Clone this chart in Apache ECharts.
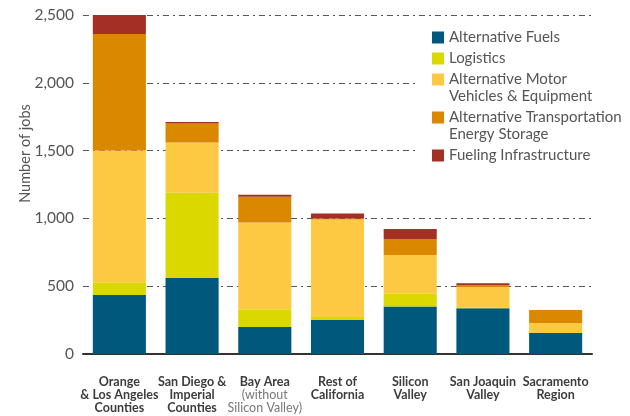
<!DOCTYPE html>
<html>
<head>
<meta charset="utf-8">
<script src="https://cdn.jsdelivr.net/npm/echarts@6/dist/echarts.min.js"></script>
<style>
html,body{margin:0;padding:0;background:#fff;}
#chart{width:630px;height:416px;}
</style>
</head>
<body>
<div id="chart"></div>
<script>
var categories = ['Orange\n& Los Angeles\nCounties', 'San Diego &\nImperial\nCounties', 'Bay Area\n(without\nSilicon Valley)', 'Rest of\nCalifornia', 'Silicon\nValley', 'San Joaquin\nValley', 'Sacramento\nRegion'];
var seriesNames = ['Alternative Fuels', 'Logistics', 'Alternative Motor\nVehicles & Equipment', 'Alternative Transportation\nEnergy Storage', 'Fueling Infrastructure'];
var altFuels = [435, 560, 200, 250, 350, 338, 154];
var logistics = [95, 630, 130, 22, 95, 7, 0];
var altMotor = [970, 370, 640, 720, 285, 150, 74];
var energyStorage = [860, 140, 190, 8, 118, 12, 96];
var fueling = [140, 10, 15, 37, 73, 15, 0];
var yTicks = [0, 500, 1000, 1500, 2000, 2500];
var axisTitle = 'Number of jobs';

var colors = ['#00587c', '#dbd800', '#fdc942', '#d98800', '#a32f25'];
var values = [altFuels, logistics, altMotor, energyStorage, fueling];
var FONT = 'Lato';

var chart = echarts.init(document.getElementById('chart'), null, {renderer: 'canvas'});
var series = seriesNames.map(function (n, i) {
  return {
    name: n, type: 'bar', stack: 'jobs', data: values[i],
    barCategoryGap: '27%',
    itemStyle: {color: colors[i]},
    emphasis: {disabled: true}
  };
});

// legend: one component per entry so that two-line entries keep the swatch on their first line
var topSquare = 'path://M0,0L12,0L12,12L0,12Z M0,29L12,29';
var legendTops = [29, 50, 71, 109, 147];
var legends = seriesNames.map(function (n, i) {
  var twoLine = n.indexOf('\n') >= 0;
  return {
    orient: 'vertical', left: 418, top: legendTops[i], padding: [0, 14, 0, 14],
    backgroundColor: '#fff',
    itemWidth: 12, itemHeight: twoLine ? 29 : 12,
    selectedMode: false,
    textStyle: {fontFamily: FONT, fontSize: 15, color: '#555', lineHeight: 17},
    data: [{name: n, icon: twoLine ? topSquare : 'rect'}]
  };
});

chart.setOption({
  animation: false,
  color: colors,
  grid: {left: 83, right: 38, top: 15, bottom: 62},
  legend: legends,
  xAxis: {
    type: 'category', data: categories,
    axisLine: {lineStyle: {color: '#333', width: 2}},
    axisTick: {show: false},
    axisLabel: {
      interval: 0, margin: 21,
      formatter: function (v) {
        var lines = v.split('\n');
        var light = false;
        return lines.map(function (l) {
          if (l.charAt(0) === '(') light = true;
          return (light ? '{l|' : '{b|') + l + '}';
        }).join('\n');
      },
      rich: {
        b: {fontFamily: FONT, fontSize: 12.5, fontWeight: 'bold', color: '#3c3c3c', lineHeight: 13},
        l: {fontFamily: FONT, fontSize: 12.5, color: '#777', lineHeight: 13}
      }
    }
  },
  yAxis: {
    type: 'value', min: yTicks[0], max: yTicks[yTicks.length - 1], interval: 500,
    axisLine: {show: false}, axisTick: {show: false},
    splitLine: {lineStyle: {color: '#555', width: 1, type: [6, 4, 2, 4]}},
    axisLabel: {
      margin: 9, fontFamily: FONT, fontSize: 15.5, color: '#555',
      formatter: function (v) { return v.toLocaleString('en-US'); }
    },
    name: axisTitle, nameLocation: 'middle', nameGap: 50, nameMoveOverlap: false,
    nameTextStyle: {fontFamily: FONT, fontSize: 14.5, color: '#555', padding: [0, 0, 0, 62]}
  },
  series: series
});
</script>
</body>
</html>
